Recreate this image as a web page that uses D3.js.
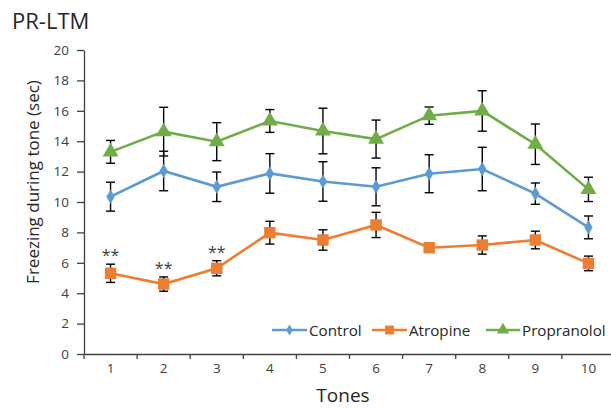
<!DOCTYPE html>
<html><head><meta charset="utf-8">
<script src="https://cdn.jsdelivr.net/npm/d3@7"></script>
<style>body{margin:0;background:#fff}svg{display:block}text{font-family:"Open Sans",sans-serif}</style>
</head><body><svg id="c" width="611" height="409"></svg>
<script>
const tones = [1,2,3,4,5,6,7,8,9,10];
const control = [10.35,12.04,11.0,11.88,11.35,11.0,11.86,12.17,10.55,8.33];
const controlErr = [0.95,1.3,0.97,1.3,1.3,1.25,1.25,1.43,0.7,0.75];
const atropine = [5.31,4.6,5.64,7.98,7.5,8.49,6.99,7.17,7.5,5.96];
const atropineErr = [0.6,0.47,0.5,0.75,0.67,0.83,0.3,0.6,0.58,0.48];
const propranolol = [13.3,14.63,13.97,15.33,14.67,14.14,15.68,15.99,13.8,10.83];
const propranololErr = [0.75,1.6,1.25,0.75,1.5,1.25,0.57,1.33,1.33,0.8];
const yTicks = [0,2,4,6,8,10,12,14,16,18,20];
const sigTones = [1,2,3];
const sigLabel = "**";

const series = [
  {name:"Control", values:control, err:controlErr, color:"#5B9BD5", shape:d3.symbolDiamond, size:60},
  {name:"Atropine", values:atropine, err:atropineErr, color:"#ED7D31", shape:d3.symbolSquare, size:130},
  {name:"Propranolol", values:propranolol, err:propranololErr, color:"#70AD47", shape:d3.symbolTriangle, size:110}
];

const svg = d3.select("#c");
const x = d3.scaleBand().domain(tones).range([84, 615]);
const y = d3.scaleLinear().domain([0,20]).range([354, 50]);
const axisColor = "#404040";

// y axis
const ya = svg.append("g").attr("transform","translate(84,0)")
  .call(d3.axisLeft(y).tickValues(yTicks).tickSize(7).tickSizeOuter(0));
ya.select(".domain").attr("stroke",axisColor).attr("stroke-width",1.3);
ya.selectAll(".tick line").attr("stroke",axisColor).attr("stroke-width",1.3);
ya.selectAll(".tick text").attr("font-size",13.5).attr("fill","#404040").attr("x",-15)
  .attr("font-family","'Open Sans',sans-serif");

// x axis
const xa = svg.append("g").attr("transform","translate(0,354)")
  .call(d3.axisBottom(x).tickSize(0).tickSizeOuter(0));
xa.select(".domain").attr("stroke",axisColor).attr("stroke-width",1.3);
xa.selectAll(".tick text").attr("font-size",13.5).attr("fill","#404040").attr("dy","1.2em")
  .attr("font-family","'Open Sans',sans-serif");
// boundary ticks
xa.selectAll(".bt").data(tones).enter().append("line").attr("class","bt")
  .attr("x1",d=>x(d)).attr("x2",d=>x(d)).attr("y1",0).attr("y2",5)
  .attr("stroke",axisColor).attr("stroke-width",1.3);

const cx = d => x(d) + x.bandwidth()/2;

// error bars
series.forEach(s=>{
  const g = svg.append("g");
  tones.forEach((t,i)=>{
    const xc = cx(t), hi = y(s.values[i]+s.err[i]), lo = y(s.values[i]-s.err[i]);
    g.append("line").attr("x1",xc).attr("x2",xc).attr("y1",hi).attr("y2",lo).attr("stroke","#000").attr("stroke-width",1.4);
    [hi,lo].forEach(yy=>g.append("line").attr("x1",xc-4.5).attr("x2",xc+4.5).attr("y1",yy).attr("y2",yy).attr("stroke","#000").attr("stroke-width",1.4));
  });
});

// lines and markers
series.forEach(s=>{
  const line = d3.line().x((d,i)=>cx(tones[i])).y(d=>y(d));
  svg.append("path").datum(s.values).attr("d",line).attr("fill","none")
    .attr("stroke",s.color).attr("stroke-width",2.6);
  svg.selectAll(null).data(s.values).enter().append("path")
    .attr("d",d3.symbol().type(s.shape).size(s.size))
    .attr("transform",(d,i)=>`translate(${cx(tones[i])},${y(d)})`)
    .attr("fill",s.color);
});

// significance
sigTones.forEach(t=>{
  const i = tones.indexOf(t);
  svg.append("text").attr("x",cx(t)).attr("y",y(atropine[i]+atropineErr[i])-3)
    .attr("text-anchor","middle").attr("font-size",16).attr("fill","#404040").text(sigLabel);
});

// legend
const legend = svg.append("g");
const legX = [272, 372, 486];
series.forEach((s,k)=>{
  const lx = legX[k], ly = 330;
  const len = k===2 ? 34 : 35;
  legend.append("line").attr("x1",lx).attr("x2",lx+len).attr("y1",ly).attr("y2",ly).attr("stroke",s.color).attr("stroke-width",2.6);
  legend.append("path").attr("d",d3.symbol().type(s.shape).size(s.size*0.6)).attr("transform",`translate(${lx+len/2},${ly})`).attr("fill",s.color);
  legend.append("text").attr("x",lx+len+2).attr("y",ly+5.5).attr("font-size",15.2).attr("fill","#262626").text(s.name);
});

// titles
svg.append("text").attr("x",12).attr("y",29).attr("font-size",22).attr("fill","#262626").text("PR-LTM");
svg.append("text").attr("transform","translate(39,182) rotate(-90)").attr("text-anchor","middle")
  .attr("font-size",17).attr("fill","#262626").text("Freezing during tone (sec)");
svg.append("text").attr("x",343).attr("y",402).attr("text-anchor","middle").attr("font-size",19).attr("fill","#262626").text("Tones");
</script></body></html>
